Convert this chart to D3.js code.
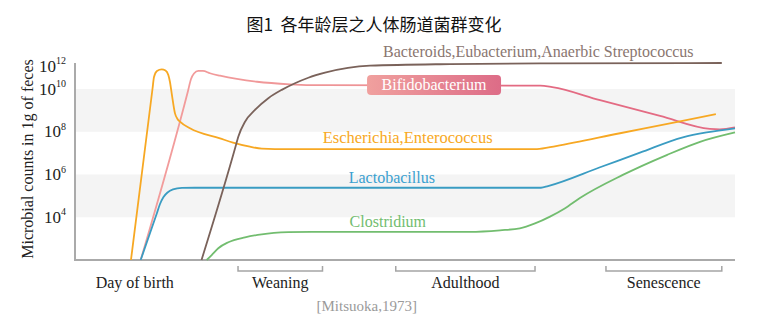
<!DOCTYPE html>
<html>
<head>
<meta charset="utf-8">
<script src="https://cdn.jsdelivr.net/npm/d3@7"></script>
<style>
  html, body { margin: 0; padding: 0; background: #fff; }
  svg { display: block; }
  text { white-space: pre; }
</style>
</head>
<body>
<svg id="chart" width="758" height="328"></svg>
<script>
// ---------- DATA (age units 0-100, values as log10 of counts) ----------
const title = "图1  各年龄层之人体肠道菌群变化";
const yAxisTitle = "Microbial counts in 1g of feces";
const citation = "[Mitsuoka,1973]";

const yTickExponents = [4, 6, 8, 10, 12];
const bandRanges = [[8, 10], [4, 6]];

const seriesNames = ["Bacteroids,Eubacterium,Anaerbic Streptococcus", "Bifidobacterium",
  "Escherichia,Enterococcus", "Lactobacillus", "Clostridium"];

const bacteroids = [[19.17, 2], [24.39, 7.38], [24.74, 7.77], [25.76, 8.47], [27.27, 9.02],
  [29.29, 9.57], [31.32, 9.96], [33.33, 10.5], [35.35, 10.98], [37.88, 11.42], [44.7, 12.03],
  [56.8, 12.17], [72, 12.23], [98, 12.26]];
const bifidobacterium = [[9.95, 2], [17.12, 9.91], [17.58, 10.87], [18.03, 11.35], [18.68, 11.57],
  [19.39, 11.57], [20.45, 11.37], [21.97, 11.16], [27.58, 10.63], [32.58, 10.41], [37.58, 10.33],
  [70.5, 10.29], [72.3, 10.16], [79.55, 9.48], [88.64, 8.74], [96.2, 8.13], [97.7, 8.11], [100, 8.2]];
const escherichia = [[8.48, 2], [11.74, 10], [11.97, 11.04], [12.42, 11.57], [13.14, 11.71],
  [13.71, 11.61], [14.14, 11.22], [14.39, 10.61], [14.65, 9.8], [15.15, 8.86], [15.53, 8.6],
  [15.91, 8.47], [17.42, 8.16], [21.97, 7.69], [23.94, 7.49], [26.5, 7.3], [28.3, 7.21],
  [30.3, 7.19], [70.0, 7.19], [72.88, 7.33], [82.58, 7.93], [91.67, 8.49], [97.1, 8.83]];
const lactobacillus = [[9.95, 2], [12.42, 4.2], [12.88, 4.62], [13.41, 4.95], [14.02, 5.16],
  [14.85, 5.3], [16.21, 5.37], [18.18, 5.38], [70.6, 5.38], [71.67, 5.46], [79.55, 6.34],
  [85.6, 7.02], [92.1, 7.74], [95.7, 7.97], [100, 8.16]];
const clostridium = [[19.95, 2], [20.71, 2.23], [21.71, 2.55], [23.23, 2.83], [25.76, 3.06],
  [28.29, 3.2], [32.32, 3.3], [35.86, 3.32], [59.85, 3.32], [64.4, 3.39], [67.4, 3.48],
  [69.7, 3.71], [71.97, 4.03], [74.2, 4.41], [76.5, 4.9], [83.0, 5.98], [89.65, 6.91],
  [94.7, 7.53], [100, 7.97]];

// series label anchor points (age, log10)
const labelAges = [70.2, 54.4, 50.4, 48.0, 47.4];
const labelLogs = [12.78, 10.35, 7.47, 5.60, 3.54];

const stageNames = ["Day of birth", "Weaning", "Adulthood", "Senescence"];
const stageStart = [null, 24.7, 48.6, 80.45];
const stageEnd = [null, 37.5, 69.7, 98.0];
const stageCenter = [9.05, 31.1, 59.15, 89.2];

// ---------- SCALES ----------
const svg = d3.select("#chart");
const x = d3.scaleLinear().domain([0, 100]).range([75, 735]);
const y = d3.scaleLinear().domain([2, 4, 6, 8, 10, 12]).range([260, 217.25, 174.5, 131.75, 89, 66]);

const serif = "'Liberation Serif', 'Times New Roman', serif";

// title
svg.append("text").attr("x", 374).attr("y", 31).attr("text-anchor", "middle")
  .attr("font-family", "'Noto Sans CJK SC', sans-serif").attr("font-size", 17)
  .attr("font-weight", 400).attr("fill", "#111").text(title);

// bands
svg.selectAll("rect.band").data(bandRanges).join("rect").attr("class", "band")
  .attr("x", x(0)).attr("width", x(100) - x(0))
  .attr("y", d => y(d[1])).attr("height", d => y(d[0]) - y(d[1]))
  .attr("fill", "#f4f4f4");

// y axis
const yAxis = d3.axisLeft(y).tickValues(yTickExponents).tickSize(0).tickPadding(9);
const gy = svg.append("g").attr("transform", `translate(${x(0)},0)`).call(yAxis);
gy.select(".domain").remove();
gy.selectAll(".tick text").each(function (d) {
  const t = d3.select(this);
  t.text("").attr("font-family", serif).attr("font-size", 17).attr("fill", "#222")
    .attr("dy", "0.3em");
  t.append("tspan").text("10");
  t.append("tspan").attr("font-size", 10).attr("dy", "-0.75em").text(d);
});

// axis lines
svg.append("line").attr("x1", x(0)).attr("x2", x(0)).attr("y1", 63).attr("y2", y(2))
  .attr("stroke", "#aaa").attr("stroke-width", 2);
svg.append("line").attr("x1", x(0) - 1).attr("x2", x(100)).attr("y1", y(2)).attr("y2", y(2))
  .attr("stroke", "#aaa").attr("stroke-width", 2);

// y axis title
svg.append("text").attr("transform", `translate(33,159) rotate(-90)`)
  .attr("text-anchor", "middle").attr("font-family", serif).attr("font-size", 16)
  .attr("fill", "#222").text(yAxisTitle);

// gradients
const defs = svg.append("defs");
const gLine = defs.append("linearGradient").attr("id", "bifLine")
  .attr("gradientUnits", "userSpaceOnUse").attr("x1", x(0)).attr("x2", x(100)).attr("y1", 0).attr("y2", 0);
gLine.append("stop").attr("offset", 0).attr("stop-color", "#f4a09e");
gLine.append("stop").attr("offset", 0.44).attr("stop-color", "#ee9396");
gLine.append("stop").attr("offset", 0.66).attr("stop-color", "#e36a82");
gLine.append("stop").attr("offset", 1).attr("stop-color", "#e46c84");
const gBox = defs.append("linearGradient").attr("id", "bifBox").attr("x1", 0).attr("x2", 1);
gBox.append("stop").attr("offset", 0).attr("stop-color", "#f0a09e");
gBox.append("stop").attr("offset", 1).attr("stop-color", "#dd6c87");

// lines
const line = d3.line().x(d => x(d[0])).y(d => y(d[1])).curve(d3.curveMonotoneX);
const seriesData = [bacteroids, bifidobacterium, escherichia, lactobacillus, clostridium];
const lineColors = ["#7a625a", "url(#bifLine)", "#f7a823", "#3a9cc2", "#72bd6f"];
const textColors = ["#8a7670", "#ffffff", "#f7a823", "#3aa0d0", "#72bd6f"];
const drawOrder = [1, 2, 3, 4, 0];
drawOrder.forEach(i => {
  svg.append("path").datum(seriesData[i]).attr("d", line).attr("fill", "none")
    .attr("stroke", lineColors[i]).attr("stroke-width", 1.8).attr("stroke-linejoin", "round");
});

// labels
seriesNames.forEach((name, i) => {
  const cx = x(labelAges[i]), cy = y(labelLogs[i]);
  if (i === 1) {
    svg.append("rect").attr("x", cx - 67).attr("y", cy - 10).attr("width", 134).attr("height", 20)
      .attr("rx", 4).attr("fill", "url(#bifBox)");
    svg.append("text").attr("x", cx).attr("y", cy + 5).attr("text-anchor", "middle")
      .attr("font-family", serif).attr("font-size", 16).attr("fill", textColors[i]).text(name);
  } else {
    svg.append("text").attr("x", cx).attr("y", cy).attr("text-anchor", "middle")
      .attr("font-family", serif).attr("font-size", i === 2 ? 16.5 : 16)
      .attr("fill", textColors[i]).text(name);
  }
});

// stages
stageNames.forEach((name, i) => {
  if (stageStart[i] !== null) {
    const x0 = x(stageStart[i]), x1 = x(stageEnd[i]);
    svg.append("path").attr("d", `M${x0},266V271H${x1}V266`).attr("fill", "none")
      .attr("stroke", "#a5a5a5").attr("stroke-width", 1.5);
  }
  svg.append("text").attr("x", x(stageCenter[i])).attr("y", 288).attr("text-anchor", "middle")
    .attr("font-family", serif).attr("font-size", 16).attr("fill", "#222").text(name);
});

// citation
svg.append("text").attr("x", 366.7).attr("y", 311).attr("text-anchor", "middle")
  .attr("font-family", serif).attr("font-size", 15).attr("fill", "#9a9a9a").text(citation);
</script>
</body>
</html>
